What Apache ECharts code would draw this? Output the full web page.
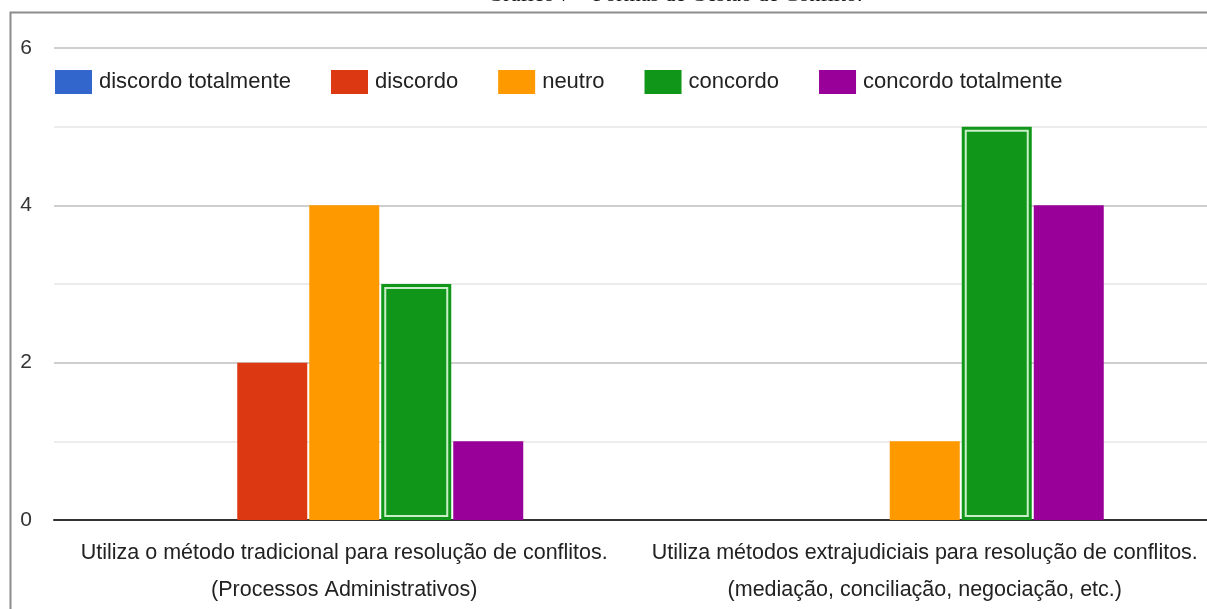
<!DOCTYPE html>
<html>
<head>
<meta charset="utf-8">
<script src="https://cdn.jsdelivr.net/npm/echarts@6/dist/echarts.min.js"></script>
<style>
  html, body { margin: 0; padding: 0; background: #fff; }
  #chart { width: 1207px; height: 609px; }
</style>
</head>
<body>
<div id="chart"></div>
<script>
// Survey answers per question, counted by response level
const categories = [
  'Utiliza o método tradicional para resolução de conflitos.\n(Processos Administrativos)',
  'Utiliza métodos extrajudiciais para resolução de conflitos.\n(mediação, conciliação, negociação, etc.)'
];
const seriesNames = ['discordo totalmente', 'discordo', 'neutro', 'concordo', 'concordo totalmente'];
const discordoTotalmente = [0, 0];
const discordo = [2, 0];
const neutro = [4, 1];
const concordo = [3, 5];
const concordoTotalmente = [1, 4];
const yTicks = [0, 2, 4, 6];
const titleText = 'Gráfico 7 – Formas de Gestão de Conflito.';

const colors = ['#3366cc', '#dc3912', '#ff9900', '#109618', '#990099'];
const values = [discordoTotalmente, discordo, neutro, concordo, concordoTotalmente];

const BAR_W = 70;
const BAR_GAP = 2;
const FONT = '"Liberation Sans", Arial, sans-serif';

const chart = echarts.init(document.getElementById('chart'));

const barSeries = seriesNames.map((name, i) => ({
  name,
  type: 'bar',
  data: values[i],
  barWidth: BAR_W,
  barGap: (BAR_GAP / BAR_W * 100) + '%',
  itemStyle: { color: colors[i] },
  emphasis: { disabled: true },
  silent: true
}));

// Inner highlight outline on the "concordo" bars (selected state look)
const highlightSeries = {
  type: 'custom',
  silent: true,
  z: 5,
  data: concordo.map((v, i) => [i, v]),
  renderItem: function (params, api) {
    const idx = api.value(0);
    const val = api.value(1);
    const top = api.coord([idx, val]);
    const base = api.coord([idx, 0]);
    const offset = (3 - 2) * (BAR_W + BAR_GAP);
    const x0 = top[0] + offset - BAR_W / 2;
    const inset = 4;
    return {
      type: 'rect',
      shape: {
        x: x0 + inset,
        y: top[1] + inset,
        width: BAR_W - inset * 2,
        height: base[1] - top[1] - inset * 2
      },
      style: { fill: null, stroke: '#c9efc9', lineWidth: 2 }
    };
  }
};

chart.setOption({
  animation: false,
  backgroundColor: '#fff',
  graphic: [
    {
      type: 'rect',
      left: 8, top: 10,
      shape: { width: 1220, height: 620 },
      style: { fill: null, stroke: '#8c8c8c', lineWidth: 2 },
      z: -1
    },
    {
      // caption sitting above the frame, mostly outside the page top
      type: 'text',
      x: 675,
      y: 6,
      style: {
        text: titleText,
        font: '22px "Liberation Serif", "DejaVu Serif", serif',
        fill: '#111',
        align: 'center',
        verticalAlign: 'bottom'
      }
    }
  ],
  legend: {
    data: seriesNames,
    left: 55,
    top: 70,
    padding: 0,
    itemWidth: 37,
    itemHeight: 24,
    itemGap: 40,
    icon: 'rect',
    textStyle: {
      fontFamily: FONT,
      fontSize: 22,
      color: '#222',
      padding: [0, 0, 0, 2]
    },
    selectedMode: false
  },
  grid: { left: 54, right: -8, top: 48, bottom: 89, outerBoundsMode: 'none' },
  xAxis: {
    type: 'category',
    data: categories,
    axisLine: { lineStyle: { color: '#333', width: 2 } },
    axisTick: { show: false },
    axisLabel: {
      fontFamily: FONT,
      fontSize: 21.5,
      color: '#222',
      lineHeight: 37,
      margin: 15,
      interval: 0
    }
  },
  yAxis: {
    type: 'value',
    min: yTicks[0],
    max: yTicks[yTicks.length - 1],
    interval: yTicks[1] - yTicks[0],
    axisLine: { show: false },
    axisTick: { show: false },
    axisLabel: {
      fontFamily: FONT,
      fontSize: 21,
      color: '#333',
      margin: 22
    },
    splitLine: { lineStyle: { color: '#cfcfcf', width: 2 } },
    minorTick: { show: false, splitNumber: 2 },
    minorSplitLine: { show: true, lineStyle: { color: '#ececec', width: 2 } }
  },
  series: [...barSeries, highlightSeries]
});
</script>
</body>
</html>
